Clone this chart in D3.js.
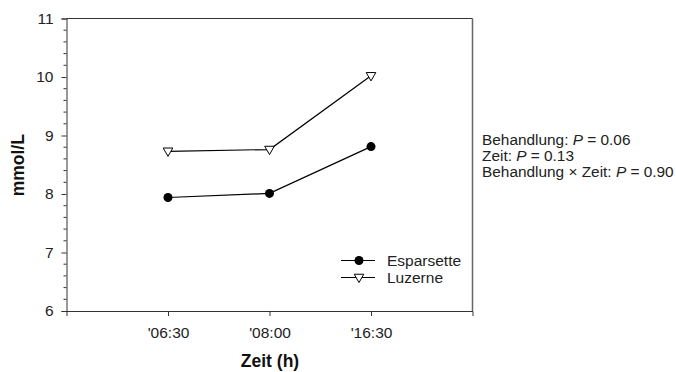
<!DOCTYPE html>
<html>
<head>
<meta charset="utf-8">
<script src="https://cdn.jsdelivr.net/npm/d3@7"></script>
<style>
  html, body { margin: 0; padding: 0; background: #fff; }
  svg { display: block; font-family: "Liberation Sans", Arial, sans-serif; }
</style>
</head>
<body>
<svg id="chart" width="676" height="372"></svg>
<script>
// Sampling times and plasma values (mmol/L) per diet
const times = ["'06:30", "'08:00", "'16:30"];
const esparsette = [7.94, 8.01, 8.81];
const luzerne = [8.73, 8.76, 10.02];
const seriesNames = ["Esparsette", "Luzerne"];
const yTicks = [6, 7, 8, 9, 10, 11];
const statsLines = [
  ["Behandlung: ", "0.06"],
  ["Zeit: ", "0.13"],
  ["Behandlung \u00d7 Zeit: ", "0.90"]
];

const svg = d3.select("#chart");
const frame = { left: 66.5, right: 472.5, top: 18.5, bottom: 311 };

const x = d3.scaleLinear().domain([0, times.length + 1]).range([frame.left, frame.right]);
const y = d3.scaleLinear().domain([6, 11]).range([frame.bottom, frame.top]);

// Frame
svg.append("line").attr("x1", frame.left).attr("x2", frame.right)
  .attr("y1", frame.top).attr("y2", frame.top).attr("stroke", "#333");
svg.append("line").attr("x1", frame.right).attr("x2", frame.right)
  .attr("y1", frame.top).attr("y2", frame.bottom).attr("stroke", "#666").attr("stroke-width", 1.5);

// Y axis: major ticks with labels, minor ticks every 0.2
const yAxis = d3.axisLeft(y).tickValues(yTicks).tickSize(5).tickPadding(8).tickFormat(d3.format("d"));
const gy = svg.append("g").attr("transform", `translate(${frame.left},0)`).call(yAxis);
const minor = d3.range(6, 11.001, 0.2).filter(v => Math.abs(v - Math.round(v)) > 1e-6);
gy.selectAll(".minor").data(minor).enter().append("line")
  .attr("class", "minor")
  .attr("x1", 0).attr("x2", -3)
  .attr("y1", d => y(d)).attr("y2", d => y(d))
  .attr("stroke", "#333");

// X axis
const xAxis = d3.axisBottom(x).tickValues(times.map((t, i) => i + 1))
  .tickFormat((d) => times[d - 1]).tickSize(5).tickPadding(11);
const gx = svg.append("g").attr("transform", `translate(0,${frame.bottom})`).call(xAxis);

[gx, gy].forEach(g => {
  g.select(".domain").attr("stroke", "#333");
  g.selectAll(".tick line").attr("stroke", "#333");
  g.selectAll(".tick text").attr("font-size", 15.5).attr("fill", "#222")
    .attr("font-family", "'Liberation Sans', Arial, sans-serif");
});

// Axis titles
svg.append("text")
  .attr("x", 270).attr("y", 367)
  .attr("text-anchor", "middle").attr("font-size", 17.5).attr("font-weight", "bold")
  .attr("fill", "#111")
  .text("Zeit (h)");
svg.append("text")
  .attr("transform", `translate(24,${(frame.top + frame.bottom) / 2 + 0.5}) rotate(-90)`)
  .attr("text-anchor", "middle").attr("font-size", 17.5).attr("font-weight", "bold")
  .attr("fill", "#111")
  .text("mmol/L");

// Lines and markers
const line = d3.line().x((d, i) => x(i + 1)).y(d => y(d));
const tri = d3.symbol().type(d3.symbolTriangle).size(40);

function drawTriangle(sel) {
  sel.attr("d", tri).attr("fill", "#fff").attr("stroke", "#000").attr("stroke-width", 1);
}

svg.append("path").datum(esparsette).attr("d", line)
  .attr("fill", "none").attr("stroke", "#000").attr("stroke-width", 1.2);
svg.append("path").datum(luzerne).attr("d", line)
  .attr("fill", "none").attr("stroke", "#000").attr("stroke-width", 1.2);

svg.selectAll(".pt-e").data(esparsette).enter().append("circle")
  .attr("cx", (d, i) => x(i + 1)).attr("cy", d => y(d)).attr("r", 4.5)
  .attr("fill", "#000");
svg.selectAll(".pt-l").data(luzerne).enter().append("path")
  .attr("transform", (d, i) => `translate(${x(i + 1)},${y(d) - 0.5}) rotate(180)`)
  .call(drawTriangle);

// Legend
const legend = svg.append("g");
seriesNames.forEach((name, i) => {
  const ly = 260.5 + i * 17;
  legend.append("line").attr("x1", 341).attr("x2", 375).attr("y1", ly).attr("y2", ly)
    .attr("stroke", "#000").attr("stroke-width", 1.2);
  if (i === 0) {
    legend.append("circle").attr("cx", 359).attr("cy", ly).attr("r", 4.5).attr("fill", "#000");
  } else {
    legend.append("path").attr("transform", `translate(359,${ly - 0.5}) rotate(180)`).call(drawTriangle);
  }
  legend.append("text").attr("x", 387).attr("y", ly + 5.3)
    .attr("font-size", 15.5).attr("fill", "#222").text(name);
});

// Statistics annotation
const stats = svg.append("g");
statsLines.forEach((s, i) => {
  const t = stats.append("text").attr("x", 482).attr("y", 145 + i * 16.2)
    .attr("font-size", 15.4).attr("fill", "#222");
  t.append("tspan").text(s[0]);
  t.append("tspan").attr("font-style", "italic").text("P");
  t.append("tspan").text(" = " + s[1]);
});
</script>
</body>
</html>
